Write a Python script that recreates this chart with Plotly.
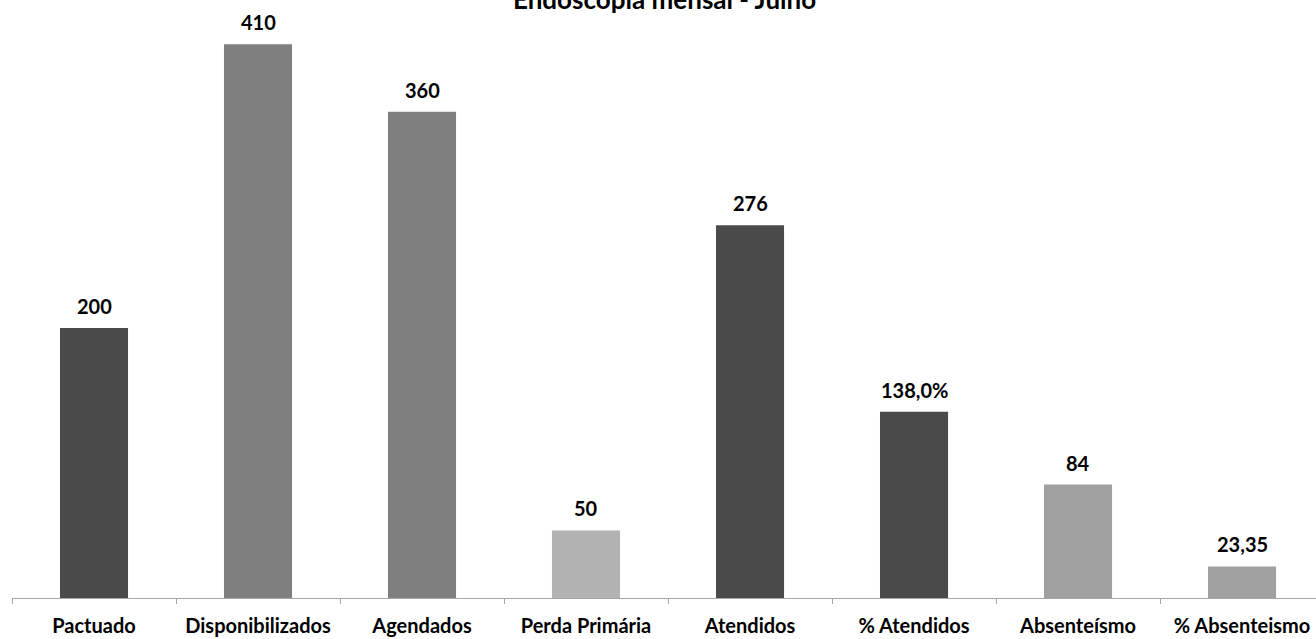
import plotly.graph_objects as go

# categories and values
categorias = ["Pactuado", "Disponibilizados", "Agendados", "Perda Primária",
              "Atendidos", "% Atendidos", "Absenteísmo", "% Absenteismo"]
valores = [200, 410, 360, 50, 276, 138.0, 84, 23.35]
rotulos = ["200", "410", "360", "50", "276", "138,0%", "84", "23,35"]
cores = ["#4a4a4a", "#7f7f7f", "#7f7f7f", "#b2b2b2",
         "#4a4a4a", "#4a4a4a", "#a0a0a0", "#a0a0a0"]

fig = go.Figure(go.Bar(
    x=categorias, y=valores,
    marker=dict(color=cores, line=dict(width=0)),
    width=0.415,
))

# value labels above each bar
for cat, val, txt in zip(categorias, valores, rotulos):
    fig.add_annotation(x=cat, y=val, text="<b>%s</b>" % txt, showarrow=False,
                       yanchor="bottom", yshift=8,
                       font=dict(family="Lato", size=20, color="#000000"))

fig.update_layout(
    width=1316, height=639,
    margin=dict(l=12, r=0, t=20, b=41),
    paper_bgcolor="white", plot_bgcolor="white",
    showlegend=False,
    title=dict(text="<b>Endoscopia mensal - Julho</b>", x=0.505, xanchor="center",
               y=1.0, yref="container", yanchor="middle",
               font=dict(family="Lato", size=26, color="#000000")),
    font=dict(family="Lato", color="#000000"),
)
fig.update_xaxes(
    range=[-0.5, 7.451], showline=True, linecolor="#a6a6a6", linewidth=1,
    ticks="outside", tickson="boundaries", ticklen=5, tickcolor="#a6a6a6",
    ticklabelstandoff=10, automargin=False,
    tickfont=dict(family="Lato", size=20, color="#000000", weight="bold"),
    showgrid=False,
)
fig.update_yaxes(range=[0, 428], visible=False, showgrid=False, automargin=False)

# drop the default 8px page margin so the figure fills the window
fig.write_html("out.html", config={"displayModeBar": False},
               post_script="document.body.style.margin='0';")
